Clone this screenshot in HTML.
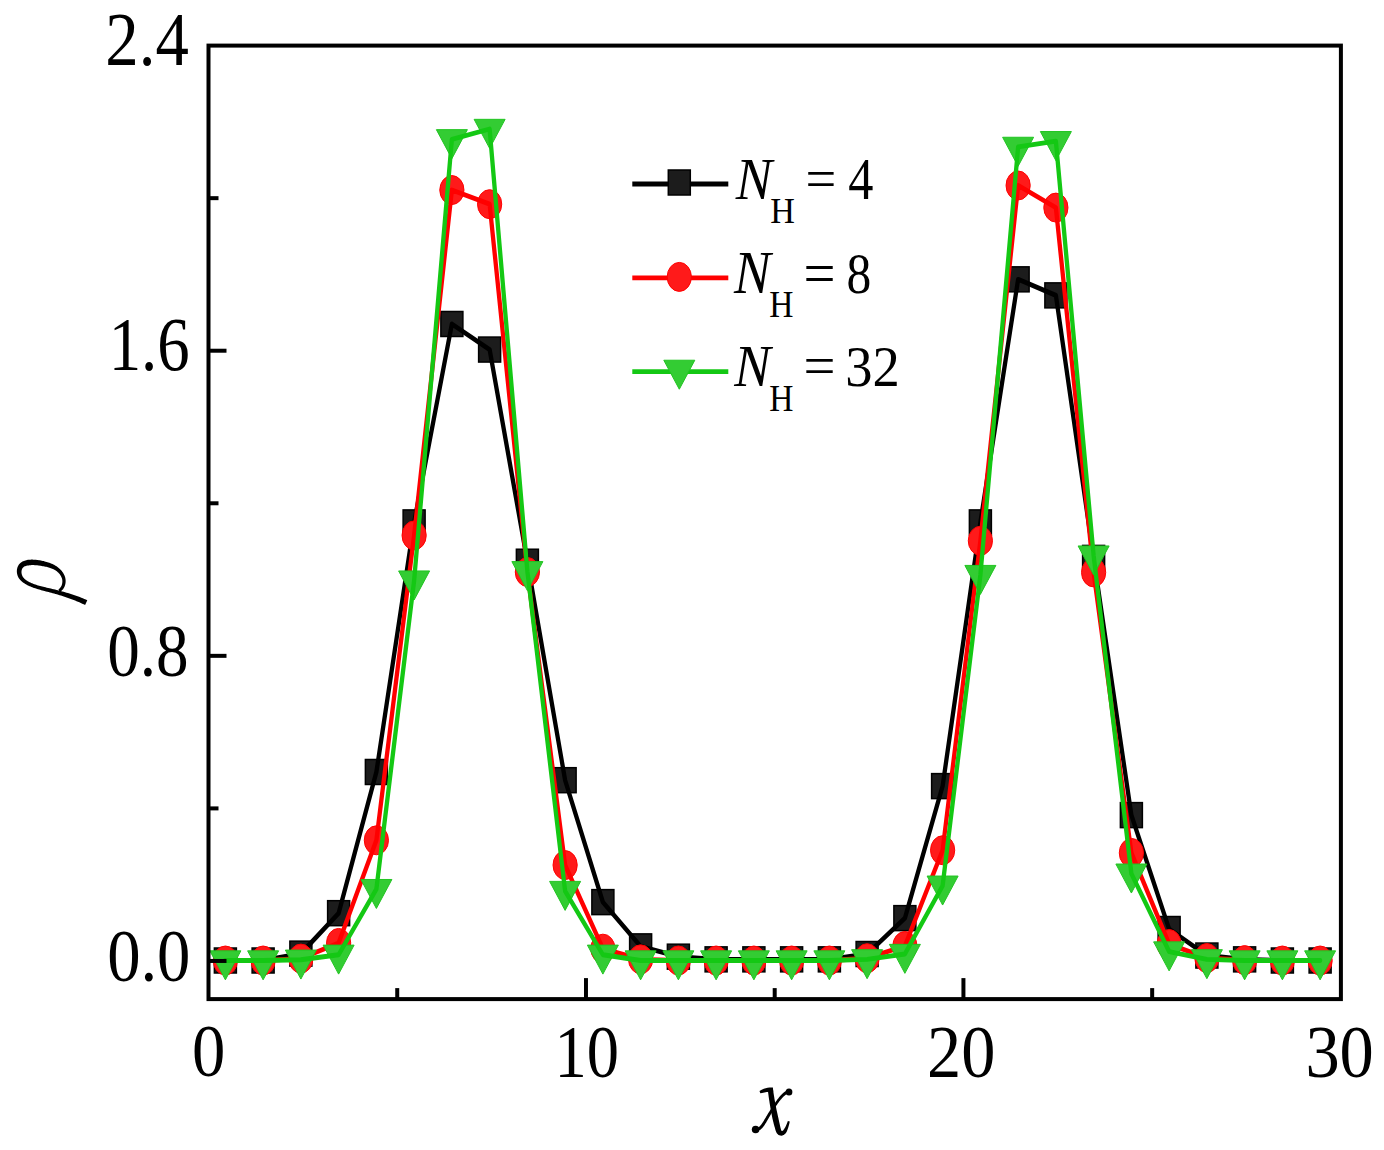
<!DOCTYPE html>
<html><head><meta charset="utf-8"><style>
html,body{margin:0;padding:0;background:#fff;width:1384px;height:1150px;overflow:hidden}
svg{display:block}
.f{font-family:"Liberation Serif",serif;font-size:100px;fill:#000}
</style></head><body>
<svg width="1384" height="1150" viewBox="0 0 1384 1150">
<rect width="1384" height="1150" fill="#fff"/>
<g>
<rect x="214.38" y="948.00" width="22.0" height="25.0" fill="#1c1c1c" stroke="#000" stroke-width="1.5"/><rect x="252.12" y="948.00" width="22.0" height="25.0" fill="#1c1c1c" stroke="#000" stroke-width="1.5"/><rect x="289.88" y="941.13" width="22.0" height="25.0" fill="#1c1c1c" stroke="#000" stroke-width="1.5"/><rect x="327.62" y="900.68" width="22.0" height="25.0" fill="#1c1c1c" stroke="#000" stroke-width="1.5"/><rect x="365.38" y="759.49" width="22.0" height="25.0" fill="#1c1c1c" stroke="#000" stroke-width="1.5"/><rect x="403.12" y="509.92" width="22.0" height="25.0" fill="#1c1c1c" stroke="#000" stroke-width="1.5"/><rect x="440.88" y="311.49" width="22.0" height="25.0" fill="#1c1c1c" stroke="#000" stroke-width="1.5"/><rect x="478.62" y="337.06" width="22.0" height="25.0" fill="#1c1c1c" stroke="#000" stroke-width="1.5"/><rect x="516.38" y="549.23" width="22.0" height="25.0" fill="#1c1c1c" stroke="#000" stroke-width="1.5"/><rect x="554.12" y="767.69" width="22.0" height="25.0" fill="#1c1c1c" stroke="#000" stroke-width="1.5"/><rect x="591.88" y="889.62" width="22.0" height="25.0" fill="#1c1c1c" stroke="#000" stroke-width="1.5"/><rect x="629.62" y="933.88" width="22.0" height="25.0" fill="#1c1c1c" stroke="#000" stroke-width="1.5"/><rect x="667.38" y="944.18" width="22.0" height="25.0" fill="#1c1c1c" stroke="#000" stroke-width="1.5"/><rect x="705.12" y="946.86" width="22.0" height="25.0" fill="#1c1c1c" stroke="#000" stroke-width="1.5"/><rect x="742.88" y="946.86" width="22.0" height="25.0" fill="#1c1c1c" stroke="#000" stroke-width="1.5"/><rect x="780.62" y="946.86" width="22.0" height="25.0" fill="#1c1c1c" stroke="#000" stroke-width="1.5"/><rect x="818.38" y="946.86" width="22.0" height="25.0" fill="#1c1c1c" stroke="#000" stroke-width="1.5"/><rect x="856.12" y="941.51" width="22.0" height="25.0" fill="#1c1c1c" stroke="#000" stroke-width="1.5"/><rect x="893.88" y="905.64" width="22.0" height="25.0" fill="#1c1c1c" stroke="#000" stroke-width="1.5"/><rect x="931.62" y="773.61" width="22.0" height="25.0" fill="#1c1c1c" stroke="#000" stroke-width="1.5"/><rect x="969.38" y="509.92" width="22.0" height="25.0" fill="#1c1c1c" stroke="#000" stroke-width="1.5"/><rect x="1007.12" y="266.84" width="22.0" height="25.0" fill="#1c1c1c" stroke="#000" stroke-width="1.5"/><rect x="1044.88" y="282.87" width="22.0" height="25.0" fill="#1c1c1c" stroke="#000" stroke-width="1.5"/><rect x="1082.62" y="545.41" width="22.0" height="25.0" fill="#1c1c1c" stroke="#000" stroke-width="1.5"/><rect x="1120.38" y="802.61" width="22.0" height="25.0" fill="#1c1c1c" stroke="#000" stroke-width="1.5"/><rect x="1158.12" y="916.52" width="22.0" height="25.0" fill="#1c1c1c" stroke="#000" stroke-width="1.5"/><rect x="1195.88" y="943.04" width="22.0" height="25.0" fill="#1c1c1c" stroke="#000" stroke-width="1.5"/><rect x="1233.62" y="946.86" width="22.0" height="25.0" fill="#1c1c1c" stroke="#000" stroke-width="1.5"/><rect x="1271.38" y="948.00" width="22.0" height="25.0" fill="#1c1c1c" stroke="#000" stroke-width="1.5"/><rect x="1309.12" y="948.00" width="22.0" height="25.0" fill="#1c1c1c" stroke="#000" stroke-width="1.5"/><g transform="scale(1,1.13)"><polyline points="225.38,850.00 263.12,850.00 300.88,843.92 338.62,808.13 376.38,683.18 414.12,462.32 451.88,286.72 489.62,309.34 527.38,497.10 565.12,690.44 602.88,798.33 640.62,837.51 678.38,846.62 716.12,848.99 753.88,848.99 791.62,848.99 829.38,848.99 867.12,844.26 904.88,812.52 942.62,695.67 980.38,462.32 1018.12,247.21 1055.88,261.39 1093.62,493.73 1131.38,721.34 1169.12,822.14 1206.88,845.61 1244.62,848.99 1282.38,850.00 1320.12,850.00" fill="none" stroke="#000" stroke-width="4.3" stroke-linejoin="round" stroke-linecap="round"/></g><ellipse cx="225.38" cy="960.50" rx="12.1" ry="14.5" fill="#ff1a1a" stroke="#f00" stroke-width="1"/><ellipse cx="263.12" cy="960.50" rx="12.1" ry="14.5" fill="#ff1a1a" stroke="#f00" stroke-width="1"/><ellipse cx="300.88" cy="958.59" rx="12.1" ry="14.5" fill="#ff1a1a" stroke="#f00" stroke-width="1"/><ellipse cx="338.62" cy="942.95" rx="12.1" ry="14.5" fill="#ff1a1a" stroke="#f00" stroke-width="1"/><ellipse cx="376.38" cy="840.30" rx="12.1" ry="14.5" fill="#ff1a1a" stroke="#f00" stroke-width="1"/><ellipse cx="414.12" cy="535.40" rx="12.1" ry="14.5" fill="#ff1a1a" stroke="#f00" stroke-width="1"/><ellipse cx="451.88" cy="190.05" rx="12.1" ry="14.5" fill="#ff1a1a" stroke="#f00" stroke-width="1"/><ellipse cx="489.62" cy="204.17" rx="12.1" ry="14.5" fill="#ff1a1a" stroke="#f00" stroke-width="1"/><ellipse cx="527.38" cy="572.03" rx="12.1" ry="14.5" fill="#ff1a1a" stroke="#f00" stroke-width="1"/><ellipse cx="565.12" cy="865.10" rx="12.1" ry="14.5" fill="#ff1a1a" stroke="#f00" stroke-width="1"/><ellipse cx="602.88" cy="948.67" rx="12.1" ry="14.5" fill="#ff1a1a" stroke="#f00" stroke-width="1"/><ellipse cx="640.62" cy="959.36" rx="12.1" ry="14.5" fill="#ff1a1a" stroke="#f00" stroke-width="1"/><ellipse cx="678.38" cy="960.50" rx="12.1" ry="14.5" fill="#ff1a1a" stroke="#f00" stroke-width="1"/><ellipse cx="716.12" cy="960.50" rx="12.1" ry="14.5" fill="#ff1a1a" stroke="#f00" stroke-width="1"/><ellipse cx="753.88" cy="960.50" rx="12.1" ry="14.5" fill="#ff1a1a" stroke="#f00" stroke-width="1"/><ellipse cx="791.62" cy="960.50" rx="12.1" ry="14.5" fill="#ff1a1a" stroke="#f00" stroke-width="1"/><ellipse cx="829.38" cy="960.50" rx="12.1" ry="14.5" fill="#ff1a1a" stroke="#f00" stroke-width="1"/><ellipse cx="867.12" cy="958.21" rx="12.1" ry="14.5" fill="#ff1a1a" stroke="#f00" stroke-width="1"/><ellipse cx="904.88" cy="946.00" rx="12.1" ry="14.5" fill="#ff1a1a" stroke="#f00" stroke-width="1"/><ellipse cx="942.62" cy="850.22" rx="12.1" ry="14.5" fill="#ff1a1a" stroke="#f00" stroke-width="1"/><ellipse cx="980.38" cy="540.74" rx="12.1" ry="14.5" fill="#ff1a1a" stroke="#f00" stroke-width="1"/><ellipse cx="1018.12" cy="185.47" rx="12.1" ry="14.5" fill="#ff1a1a" stroke="#f00" stroke-width="1"/><ellipse cx="1055.88" cy="207.60" rx="12.1" ry="14.5" fill="#ff1a1a" stroke="#f00" stroke-width="1"/><ellipse cx="1093.62" cy="572.41" rx="12.1" ry="14.5" fill="#ff1a1a" stroke="#f00" stroke-width="1"/><ellipse cx="1131.38" cy="852.89" rx="12.1" ry="14.5" fill="#ff1a1a" stroke="#f00" stroke-width="1"/><ellipse cx="1169.12" cy="944.09" rx="12.1" ry="14.5" fill="#ff1a1a" stroke="#f00" stroke-width="1"/><ellipse cx="1206.88" cy="958.02" rx="12.1" ry="14.5" fill="#ff1a1a" stroke="#f00" stroke-width="1"/><ellipse cx="1244.62" cy="960.12" rx="12.1" ry="14.5" fill="#ff1a1a" stroke="#f00" stroke-width="1"/><ellipse cx="1282.38" cy="960.50" rx="12.1" ry="14.5" fill="#ff1a1a" stroke="#f00" stroke-width="1"/><ellipse cx="1320.12" cy="960.50" rx="12.1" ry="14.5" fill="#ff1a1a" stroke="#f00" stroke-width="1"/><g transform="scale(1,1.13)"><polyline points="225.38,850.00 263.12,850.00 300.88,848.31 338.62,834.47 376.38,743.62 414.12,473.80 451.88,168.19 489.62,180.68 527.38,506.22 565.12,765.58 602.88,839.53 640.62,848.99 678.38,850.00 716.12,850.00 753.88,850.00 791.62,850.00 829.38,850.00 867.12,847.97 904.88,837.17 942.62,752.40 980.38,478.53 1018.12,164.13 1055.88,183.72 1093.62,506.56 1131.38,754.77 1169.12,835.48 1206.88,847.80 1244.62,849.66 1282.38,850.00 1320.12,850.00" fill="none" stroke="#ff0000" stroke-width="4.3" stroke-linejoin="round" stroke-linecap="round"/></g><polygon points="209.88,950.83 240.88,950.83 225.38,979.83" fill="#33cc33" stroke="#22c422" stroke-width="1" stroke-linejoin="miter"/><polygon points="247.62,950.83 278.62,950.83 263.12,979.83" fill="#33cc33" stroke="#22c422" stroke-width="1" stroke-linejoin="miter"/><polygon points="285.38,950.07 316.38,950.07 300.88,979.07" fill="#33cc33" stroke="#22c422" stroke-width="1" stroke-linejoin="miter"/><polygon points="323.12,945.11 354.12,945.11 338.62,974.11" fill="#33cc33" stroke="#22c422" stroke-width="1" stroke-linejoin="miter"/><polygon points="360.88,879.47 391.88,879.47 376.38,908.47" fill="#33cc33" stroke="#22c422" stroke-width="1" stroke-linejoin="miter"/><polygon points="398.62,570.95 429.62,570.95 414.12,599.95" fill="#33cc33" stroke="#22c422" stroke-width="1" stroke-linejoin="miter"/><polygon points="436.38,129.63 467.38,129.63 451.88,158.63" fill="#33cc33" stroke="#22c422" stroke-width="1" stroke-linejoin="miter"/><polygon points="474.12,119.33 505.12,119.33 489.62,148.33" fill="#33cc33" stroke="#22c422" stroke-width="1" stroke-linejoin="miter"/><polygon points="511.88,561.60 542.88,561.60 527.38,590.60" fill="#33cc33" stroke="#22c422" stroke-width="1" stroke-linejoin="miter"/><polygon points="549.62,881.38 580.62,881.38 565.12,910.38" fill="#33cc33" stroke="#22c422" stroke-width="1" stroke-linejoin="miter"/><polygon points="587.38,945.11 618.38,945.11 602.88,974.11" fill="#33cc33" stroke="#22c422" stroke-width="1" stroke-linejoin="miter"/><polygon points="625.12,950.83 656.12,950.83 640.62,979.83" fill="#33cc33" stroke="#22c422" stroke-width="1" stroke-linejoin="miter"/><polygon points="662.88,950.83 693.88,950.83 678.38,979.83" fill="#33cc33" stroke="#22c422" stroke-width="1" stroke-linejoin="miter"/><polygon points="700.62,950.83 731.62,950.83 716.12,979.83" fill="#33cc33" stroke="#22c422" stroke-width="1" stroke-linejoin="miter"/><polygon points="738.38,950.83 769.38,950.83 753.88,979.83" fill="#33cc33" stroke="#22c422" stroke-width="1" stroke-linejoin="miter"/><polygon points="776.12,950.83 807.12,950.83 791.62,979.83" fill="#33cc33" stroke="#22c422" stroke-width="1" stroke-linejoin="miter"/><polygon points="813.88,950.83 844.88,950.83 829.38,979.83" fill="#33cc33" stroke="#22c422" stroke-width="1" stroke-linejoin="miter"/><polygon points="851.62,949.69 882.62,949.69 867.12,978.69" fill="#33cc33" stroke="#22c422" stroke-width="1" stroke-linejoin="miter"/><polygon points="889.38,944.35 920.38,944.35 904.88,973.35" fill="#33cc33" stroke="#22c422" stroke-width="1" stroke-linejoin="miter"/><polygon points="927.12,876.04 958.12,876.04 942.62,905.04" fill="#33cc33" stroke="#22c422" stroke-width="1" stroke-linejoin="miter"/><polygon points="964.88,565.42 995.88,565.42 980.38,594.42" fill="#33cc33" stroke="#22c422" stroke-width="1" stroke-linejoin="miter"/><polygon points="1002.62,137.26 1033.62,137.26 1018.12,166.26" fill="#33cc33" stroke="#22c422" stroke-width="1" stroke-linejoin="miter"/><polygon points="1040.38,131.54 1071.38,131.54 1055.88,160.54" fill="#33cc33" stroke="#22c422" stroke-width="1" stroke-linejoin="miter"/><polygon points="1078.12,545.96 1109.12,545.96 1093.62,574.96" fill="#33cc33" stroke="#22c422" stroke-width="1" stroke-linejoin="miter"/><polygon points="1115.88,864.02 1146.88,864.02 1131.38,893.02" fill="#33cc33" stroke="#22c422" stroke-width="1" stroke-linejoin="miter"/><polygon points="1153.62,941.87 1184.62,941.87 1169.12,970.87" fill="#33cc33" stroke="#22c422" stroke-width="1" stroke-linejoin="miter"/><polygon points="1191.38,949.69 1222.38,949.69 1206.88,978.69" fill="#33cc33" stroke="#22c422" stroke-width="1" stroke-linejoin="miter"/><polygon points="1229.12,950.83 1260.12,950.83 1244.62,979.83" fill="#33cc33" stroke="#22c422" stroke-width="1" stroke-linejoin="miter"/><polygon points="1266.88,950.83 1297.88,950.83 1282.38,979.83" fill="#33cc33" stroke="#22c422" stroke-width="1" stroke-linejoin="miter"/><polygon points="1304.62,950.83 1335.62,950.83 1320.12,979.83" fill="#33cc33" stroke="#22c422" stroke-width="1" stroke-linejoin="miter"/><g transform="scale(1,1.13)"><polyline points="225.38,850.00 263.12,850.00 300.88,849.32 338.62,844.93 376.38,786.85 414.12,513.82 451.88,123.27 489.62,114.15 527.38,505.55 565.12,788.54 602.88,844.93 640.62,850.00 678.38,850.00 716.12,850.00 753.88,850.00 791.62,850.00 829.38,850.00 867.12,848.99 904.88,844.26 942.62,783.81 980.38,508.92 1018.12,130.03 1055.88,124.96 1093.62,491.70 1131.38,773.17 1169.12,842.06 1206.88,848.99 1244.62,850.00 1282.38,850.00 1320.12,850.00" fill="none" stroke="#14c814" stroke-width="4.3" stroke-linejoin="round" stroke-linecap="round"/></g>
<rect x="208.50" y="45.60" width="1132.40" height="953.50" fill="none" stroke="#000" stroke-width="4.0"/><line x1="585.97" y1="999.10" x2="585.97" y2="978.10" stroke="#000" stroke-width="4.0"/><line x1="963.43" y1="999.10" x2="963.43" y2="978.10" stroke="#000" stroke-width="4.0"/><line x1="397.23" y1="999.10" x2="397.23" y2="988.10" stroke="#000" stroke-width="4.0"/><line x1="774.70" y1="999.10" x2="774.70" y2="988.10" stroke="#000" stroke-width="4.0"/><line x1="1152.17" y1="999.10" x2="1152.17" y2="988.10" stroke="#000" stroke-width="4.0"/><line x1="208.50" y1="960.96" x2="226.50" y2="960.96" stroke="#000" stroke-width="4.0"/><line x1="208.50" y1="655.84" x2="226.50" y2="655.84" stroke="#000" stroke-width="4.0"/><line x1="208.50" y1="350.72" x2="226.50" y2="350.72" stroke="#000" stroke-width="4.0"/><line x1="208.50" y1="808.40" x2="218.50" y2="808.40" stroke="#000" stroke-width="4.0"/><line x1="208.50" y1="503.28" x2="218.50" y2="503.28" stroke="#000" stroke-width="4.0"/><line x1="208.50" y1="198.16" x2="218.50" y2="198.16" stroke="#000" stroke-width="4.0"/>
<g transform="scale(1,1.13)"><line x1="632.3" y1="162.83" x2="728.3" y2="162.83" stroke="#000" stroke-width="4.3" stroke-linecap="butt"/></g><rect x="668.30" y="170.00" width="22.0" height="25.0" fill="#1c1c1c" stroke="#000" stroke-width="1.5"/><text transform="matrix(0.54545,0,0,0.60000,735.67,199.40)" class="f" font-style="italic">N</text><text transform="matrix(0.34135,0,0,0.35725,770.18,222.60)" class="f">H</text><text transform="matrix(0.54624,0,0,0.57200,805.47,198.13)" class="f">=</text><text transform="matrix(0.50323,0,0,0.58615,848.19,199.49)" class="f">4</text><g transform="scale(1,1.13)"><line x1="632.3" y1="245.93" x2="728.3" y2="245.93" stroke="#ff0000" stroke-width="4.3" stroke-linecap="butt"/></g><ellipse cx="679.30" cy="276.90" rx="12.1" ry="14.5" fill="#ff1a1a" stroke="#f00" stroke-width="1"/><text transform="matrix(0.54965,0,0,0.61077,734.07,293.10)" class="f" font-style="italic">N</text><text transform="matrix(0.33534,0,0,0.38015,769.29,317.10)" class="f">H</text><text transform="matrix(0.56774,0,0,0.59600,803.46,292.92)" class="f">=</text><text transform="matrix(0.49524,0,0,0.57778,846.62,292.52)" class="f">8</text><g transform="scale(1,1.13)"><line x1="632.3" y1="328.85" x2="728.3" y2="328.85" stroke="#14c814" stroke-width="4.3" stroke-linecap="butt"/></g><polygon points="663.80,360.23 694.80,360.23 679.30,389.23" fill="#33cc33" stroke="#22c422" stroke-width="1" stroke-linejoin="miter"/><text transform="matrix(0.54545,0,0,0.60000,734.37,386.10)" class="f" font-style="italic">N</text><text transform="matrix(0.33534,0,0,0.38779,769.29,410.80)" class="f">H</text><text transform="matrix(0.56774,0,0,0.57200,803.46,385.43)" class="f">=</text><text transform="matrix(0.54525,0,0,0.57164,845.17,386.13)" class="f">32</text>
<text transform="matrix(0.66807,0,0,0.76000,105.29,65.36)" class="f">2.4</text><text transform="matrix(0.64867,0,0,0.76000,108.66,369.56)" class="f">1.6</text><text transform="matrix(0.65128,0,0,0.73824,107.19,675.99)" class="f">0.8</text><text transform="matrix(0.66667,0,0,0.73824,107.13,980.69)" class="f">0.0</text><text transform="matrix(0.66667,0,0,0.73630,192.03,1076.06)" class="f">0</text><text transform="matrix(0.64483,0,0,0.74370,554.60,1076.56)" class="f">10</text><text transform="matrix(0.68415,0,0,0.74370,927.02,1076.56)" class="f">20</text><text transform="matrix(0.68462,0,0,0.74370,1305.38,1076.56)" class="f">30</text><path d="M 767.72,1088.91 L 767.89,1090.42 L 768.06,1091.96 L 768.26,1093.50 L 768.46,1095.06 L 768.67,1096.63 L 768.89,1098.20 L 769.12,1099.78 L 769.36,1101.36 L 769.61,1102.94 L 769.86,1104.51 L 770.13,1106.08 L 770.39,1107.64 L 770.67,1109.20 L 770.94,1110.74 L 771.23,1112.26 L 771.51,1113.77 L 771.80,1115.26 L 772.10,1116.73 L 772.39,1118.18 L 772.69,1119.60 L 773.03,1120.98 L 773.37,1122.33 L 773.71,1123.64 L 774.05,1124.93 L 774.39,1126.17 L 774.72,1127.37 L 775.05,1128.54 L 775.38,1129.66 L 775.70,1130.75 L 775.89,1131.29 L 776.09,1131.79 L 776.31,1132.27 L 776.55,1132.73 L 776.82,1133.17 L 777.11,1133.59 L 777.45,1133.98 L 777.82,1134.33 L 778.22,1134.64 L 778.64,1134.93 L 779.09,1135.17 L 779.56,1135.37 L 780.05,1135.52 L 780.55,1135.62 L 781.05,1135.66 L 781.56,1135.65 L 782.05,1135.59 L 782.53,1135.48 L 782.99,1135.32 L 783.42,1135.12 L 783.84,1134.89 L 784.23,1134.62 L 784.60,1134.33 L 784.95,1134.01 L 785.28,1133.66 L 785.60,1133.30 L 785.91,1132.91 L 786.20,1132.49 L 786.50,1132.02 L 786.70,1131.63 L 786.84,1131.32 L 786.97,1131.01 L 787.11,1130.69 L 787.24,1130.37 L 787.37,1130.04 L 787.49,1129.71 L 787.61,1129.37 L 787.73,1129.03 L 787.85,1128.69 L 787.96,1128.34 L 788.07,1127.98 L 788.18,1127.63 L 788.30,1127.27 L 788.41,1126.91 L 788.52,1126.54 L 788.63,1126.18 L 788.74,1125.81 L 788.85,1125.43 L 788.95,1125.05 L 789.05,1124.67 L 789.15,1124.29 L 789.24,1123.91 L 789.33,1123.52 L 789.43,1123.13 L 789.51,1122.74 L 789.60,1122.35 L 789.68,1121.96 L 789.76,1121.56 L 787.84,1121.04 L 787.71,1121.41 L 787.58,1121.78 L 787.45,1122.14 L 787.31,1122.50 L 787.18,1122.86 L 787.04,1123.22 L 786.90,1123.57 L 786.76,1123.92 L 786.62,1124.27 L 786.48,1124.62 L 786.34,1124.96 L 786.19,1125.29 L 786.04,1125.62 L 785.89,1125.95 L 785.74,1126.27 L 785.59,1126.59 L 785.43,1126.89 L 785.27,1127.20 L 785.11,1127.49 L 784.94,1127.78 L 784.78,1128.06 L 784.61,1128.34 L 784.44,1128.61 L 784.28,1128.87 L 784.11,1129.13 L 783.94,1129.37 L 783.78,1129.61 L 783.61,1129.85 L 783.50,1129.98 L 783.28,1130.20 L 783.05,1130.43 L 782.82,1130.62 L 782.60,1130.78 L 782.40,1130.91 L 782.21,1131.00 L 782.04,1131.06 L 781.89,1131.10 L 781.77,1131.11 L 781.67,1131.11 L 781.60,1131.09 L 781.56,1131.06 L 781.53,1131.03 L 781.52,1130.99 L 781.53,1130.96 L 781.54,1130.93 L 781.54,1130.90 L 781.54,1130.86 L 781.54,1130.81 L 781.52,1130.75 L 781.49,1130.68 L 781.46,1130.58 L 781.40,1130.47 L 781.32,1130.34 L 781.24,1130.18 L 781.15,1129.98 L 781.06,1129.76 L 780.97,1129.51 L 780.90,1129.25 L 780.64,1128.23 L 780.37,1127.13 L 780.10,1125.99 L 779.83,1124.81 L 779.55,1123.58 L 779.28,1122.31 L 779.00,1121.01 L 778.72,1119.68 L 778.44,1118.31 L 778.12,1116.93 L 777.80,1115.52 L 777.48,1114.08 L 777.16,1112.62 L 776.85,1111.14 L 776.53,1109.65 L 776.23,1108.14 L 775.92,1106.62 L 775.62,1105.09 L 775.33,1103.55 L 775.05,1102.01 L 774.77,1100.46 L 774.50,1098.92 L 774.24,1097.37 L 773.98,1095.83 L 773.74,1094.30 L 773.51,1092.78 L 773.29,1091.27 L 773.08,1089.77 L 772.88,1088.29 Z" fill="#000"/><path d="M 759.5,1090.9 C 762.5,1089.3 766,1087.9 769.5,1087.6 L 772.9,1087.6 L 773.2,1091.8 C 769,1091.6 764.5,1092.2 760.3,1093.3 Z" fill="#000"/><path d="M 755.25,1130.98 L 755.79,1131.07 L 756.41,1131.10 L 757.02,1131.07 L 757.62,1130.97 L 758.19,1130.82 L 758.74,1130.61 L 759.28,1130.36 L 759.79,1130.07 L 760.28,1129.75 L 760.75,1129.39 L 761.20,1129.00 L 761.64,1128.59 L 762.07,1128.15 L 762.48,1127.69 L 762.89,1127.22 L 763.28,1126.73 L 763.66,1126.22 L 764.04,1125.70 L 764.41,1125.17 L 764.77,1124.63 L 765.12,1124.09 L 765.47,1123.54 L 765.81,1122.98 L 766.15,1122.43 L 766.48,1121.88 L 766.80,1121.34 L 767.12,1120.80 L 767.43,1120.27 L 767.75,1119.74 L 768.11,1119.10 L 768.49,1118.45 L 768.87,1117.79 L 769.26,1117.12 L 769.66,1116.43 L 770.07,1115.73 L 770.49,1115.02 L 770.91,1114.31 L 771.34,1113.59 L 771.78,1112.86 L 772.22,1112.13 L 772.67,1111.39 L 773.12,1110.66 L 773.57,1109.92 L 774.03,1109.19 L 774.49,1108.46 L 774.96,1107.73 L 775.42,1107.01 L 775.89,1106.30 L 776.36,1105.59 L 776.83,1104.89 L 777.30,1104.21 L 777.77,1103.54 L 778.23,1102.88 L 778.70,1102.24 L 779.17,1101.62 L 779.64,1101.02 L 780.11,1100.44 L 780.57,1099.87 L 780.88,1099.50 L 781.19,1099.14 L 781.50,1098.78 L 781.80,1098.43 L 782.11,1098.09 L 782.41,1097.75 L 782.72,1097.42 L 783.02,1097.11 L 783.33,1096.80 L 783.63,1096.50 L 783.93,1096.21 L 784.24,1095.93 L 784.54,1095.65 L 784.84,1095.40 L 785.14,1095.15 L 785.45,1094.91 L 785.75,1094.68 L 786.05,1094.47 L 786.35,1094.27 L 786.65,1094.08 L 786.95,1093.90 L 787.25,1093.74 L 787.54,1093.59 L 787.84,1093.45 L 788.14,1093.33 L 788.44,1093.22 L 788.74,1093.12 L 789.03,1093.03 L 789.37,1092.95 L 788.63,1090.05 L 788.24,1090.15 L 787.83,1090.27 L 787.42,1090.42 L 787.02,1090.58 L 786.62,1090.75 L 786.23,1090.94 L 785.85,1091.14 L 785.47,1091.36 L 785.09,1091.59 L 784.73,1091.83 L 784.36,1092.09 L 784.01,1092.35 L 783.65,1092.62 L 783.31,1092.91 L 782.96,1093.20 L 782.62,1093.51 L 782.28,1093.82 L 781.95,1094.14 L 781.62,1094.47 L 781.29,1094.81 L 780.96,1095.15 L 780.64,1095.50 L 780.32,1095.86 L 780.00,1096.23 L 779.68,1096.60 L 779.37,1096.97 L 779.05,1097.35 L 778.74,1097.74 L 778.43,1098.13 L 777.96,1098.72 L 777.48,1099.34 L 777.00,1099.98 L 776.53,1100.63 L 776.04,1101.29 L 775.55,1101.96 L 775.07,1102.65 L 774.58,1103.35 L 774.09,1104.06 L 773.61,1104.77 L 773.12,1105.50 L 772.64,1106.23 L 772.16,1106.96 L 771.69,1107.70 L 771.21,1108.44 L 770.74,1109.18 L 770.28,1109.92 L 769.82,1110.66 L 769.37,1111.39 L 768.92,1112.13 L 768.48,1112.85 L 768.05,1113.57 L 767.62,1114.28 L 767.20,1114.97 L 766.79,1115.66 L 766.39,1116.34 L 766.00,1117.00 L 765.62,1117.64 L 765.25,1118.26 L 764.94,1118.78 L 764.62,1119.31 L 764.30,1119.84 L 763.98,1120.38 L 763.65,1120.92 L 763.33,1121.45 L 763.00,1121.98 L 762.66,1122.50 L 762.33,1123.01 L 761.99,1123.51 L 761.65,1123.99 L 761.30,1124.46 L 760.96,1124.91 L 760.61,1125.34 L 760.27,1125.74 L 759.92,1126.12 L 759.57,1126.47 L 759.23,1126.78 L 758.89,1127.07 L 758.56,1127.32 L 758.23,1127.54 L 757.91,1127.72 L 757.59,1127.86 L 757.29,1127.97 L 757.00,1128.05 L 756.71,1128.09 L 756.42,1128.11 L 756.13,1128.09 L 755.75,1128.02 Z" fill="#000"/><ellipse cx="789.0" cy="1091.9" rx="3.4" ry="3.5" fill="#000"/><ellipse cx="755.6" cy="1129.5" rx="3.8" ry="3.8" fill="#000"/><path d="M 59.96,591.79 L 60.48,591.50 L 61.01,591.14 L 61.51,590.75 L 61.99,590.32 L 62.43,589.87 L 62.85,589.39 L 63.24,588.89 L 63.60,588.37 L 63.93,587.82 L 64.23,587.26 L 64.50,586.69 L 64.74,586.09 L 64.95,585.49 L 65.14,584.87 L 65.30,584.24 L 65.42,583.61 L 65.52,582.96 L 65.59,582.32 L 65.63,581.66 L 65.64,581.01 L 65.62,580.35 L 65.57,579.70 L 65.50,579.04 L 65.39,578.39 L 65.25,577.74 L 65.07,577.10 L 64.87,576.46 L 64.63,575.84 L 64.37,575.26 L 64.09,574.65 L 63.78,574.03 L 63.43,573.41 L 63.07,572.81 L 62.67,572.23 L 62.26,571.65 L 61.81,571.08 L 61.35,570.53 L 60.86,569.99 L 60.35,569.47 L 59.81,568.95 L 59.25,568.46 L 58.67,567.97 L 58.07,567.49 L 57.46,567.01 L 56.82,566.56 L 56.16,566.11 L 55.47,565.68 L 54.77,565.26 L 54.04,564.86 L 53.29,564.48 L 52.52,564.10 L 51.73,563.74 L 50.92,563.40 L 50.09,563.07 L 49.24,562.76 L 48.37,562.46 L 47.47,562.18 L 46.59,561.92 L 45.65,561.65 L 44.70,561.38 L 43.74,561.12 L 42.77,560.89 L 41.80,560.69 L 40.84,560.51 L 39.87,560.34 L 38.91,560.18 L 37.95,560.04 L 36.99,559.92 L 36.05,559.82 L 35.10,559.74 L 34.17,559.67 L 33.24,559.63 L 32.33,559.61 L 31.42,559.61 L 30.52,559.63 L 29.64,559.67 L 28.77,559.75 L 27.91,559.84 L 27.07,559.99 L 26.25,560.18 L 25.44,560.40 L 24.66,560.65 L 23.89,560.93 L 23.15,561.25 L 22.43,561.60 L 21.73,562.00 L 21.03,562.46 L 20.40,562.96 L 19.86,563.47 L 19.36,564.02 L 18.91,564.59 L 18.50,565.19 L 18.15,565.81 L 17.84,566.45 L 17.57,567.09 L 17.35,567.75 L 17.17,568.42 L 17.03,569.10 L 16.93,569.77 L 16.87,570.46 L 16.85,571.14 L 16.86,571.82 L 16.91,572.50 L 16.99,573.17 L 17.11,573.84 L 17.27,574.50 L 17.46,575.15 L 17.67,575.79 L 17.92,576.42 L 18.21,577.04 L 18.52,577.64 L 18.86,578.22 L 19.24,578.79 L 19.64,579.33 L 20.08,579.85 L 20.53,580.33 L 21.02,580.83 L 21.56,581.31 L 22.12,581.78 L 22.70,582.24 L 23.31,582.68 L 23.95,583.10 L 24.60,583.52 L 25.26,583.94 L 25.95,584.35 L 26.66,584.75 L 27.40,585.14 L 28.16,585.52 L 28.95,585.89 L 29.76,586.25 L 30.59,586.61 L 31.44,586.95 L 32.32,587.29 L 33.22,587.63 L 34.14,587.95 L 35.09,588.27 L 36.06,588.59 L 37.04,588.90 L 38.06,589.20 L 39.08,589.51 L 40.13,589.83 L 41.21,590.13 L 42.30,590.44 L 43.41,590.74 L 44.55,591.04 L 45.90,591.39 L 47.25,591.74 L 48.60,592.09 L 49.95,592.45 L 51.32,592.81 L 52.68,593.18 L 54.06,593.56 L 55.43,593.95 L 56.82,594.35 L 58.20,594.76 L 59.59,595.17 L 60.99,595.60 L 62.39,596.03 L 63.79,596.48 L 65.20,596.94 L 66.60,597.41 L 68.02,597.90 L 69.43,598.40 L 70.84,598.92 L 72.26,599.45 L 73.68,600.00 L 75.10,600.57 L 76.52,601.15 L 77.95,601.74 L 79.37,602.36 L 80.80,602.99 L 82.23,603.64 L 83.65,604.31 L 85.10,605.01 L 87.30,600.19 L 85.81,599.54 L 84.30,598.91 L 82.80,598.29 L 81.30,597.70 L 79.81,597.12 L 78.31,596.56 L 76.83,596.02 L 75.34,595.50 L 73.86,595.00 L 72.38,594.51 L 70.91,594.03 L 69.45,593.57 L 67.99,593.12 L 66.53,592.68 L 65.08,592.25 L 63.64,591.84 L 62.20,591.44 L 60.77,591.05 L 59.34,590.68 L 57.92,590.31 L 56.51,589.95 L 55.10,589.60 L 53.70,589.26 L 52.30,588.93 L 50.91,588.60 L 49.53,588.28 L 48.16,587.97 L 46.80,587.66 L 45.45,587.36 L 44.33,587.10 L 43.24,586.83 L 42.16,586.57 L 41.11,586.30 L 40.08,586.03 L 39.08,585.75 L 38.10,585.45 L 37.15,585.16 L 36.22,584.86 L 35.32,584.55 L 34.44,584.24 L 33.59,583.93 L 32.77,583.61 L 31.97,583.28 L 31.20,582.95 L 30.45,582.62 L 29.74,582.28 L 29.05,581.94 L 28.38,581.59 L 27.75,581.23 L 27.14,580.87 L 26.57,580.51 L 26.03,580.12 L 25.53,579.72 L 25.06,579.32 L 24.62,578.92 L 24.21,578.51 L 23.83,578.10 L 23.47,577.67 L 23.18,577.30 L 22.92,576.93 L 22.69,576.54 L 22.47,576.14 L 22.27,575.73 L 22.10,575.30 L 21.94,574.87 L 21.81,574.43 L 21.70,573.98 L 21.62,573.53 L 21.55,573.08 L 21.51,572.63 L 21.49,572.18 L 21.49,571.74 L 21.52,571.30 L 21.56,570.88 L 21.63,570.46 L 21.72,570.05 L 21.83,569.66 L 21.96,569.29 L 22.11,568.93 L 22.29,568.59 L 22.47,568.26 L 22.68,567.96 L 22.91,567.67 L 23.15,567.41 L 23.42,567.16 L 23.70,566.93 L 23.97,566.74 L 24.33,566.55 L 24.77,566.34 L 25.23,566.15 L 25.73,565.98 L 26.27,565.83 L 26.83,565.69 L 27.43,565.57 L 28.05,565.47 L 28.70,565.38 L 29.38,565.28 L 30.08,565.21 L 30.81,565.15 L 31.55,565.11 L 32.32,565.09 L 33.11,565.09 L 33.92,565.10 L 34.75,565.14 L 35.59,565.19 L 36.44,565.26 L 37.30,565.34 L 38.18,565.44 L 39.06,565.56 L 39.95,565.69 L 40.85,565.84 L 41.75,566.00 L 42.66,566.16 L 43.57,566.32 L 44.48,566.49 L 45.41,566.68 L 46.27,566.85 L 47.07,567.03 L 47.86,567.22 L 48.63,567.43 L 49.38,567.65 L 50.12,567.89 L 50.83,568.14 L 51.52,568.40 L 52.19,568.68 L 52.84,568.97 L 53.48,569.27 L 54.09,569.59 L 54.68,569.91 L 55.25,570.25 L 55.81,570.60 L 56.34,570.97 L 56.84,571.35 L 57.32,571.75 L 57.78,572.16 L 58.21,572.57 L 58.63,573.00 L 59.03,573.43 L 59.40,573.87 L 59.76,574.33 L 60.09,574.79 L 60.40,575.26 L 60.70,575.74 L 60.97,576.22 L 61.23,576.74 L 61.46,577.21 L 61.65,577.66 L 61.82,578.12 L 61.97,578.59 L 62.09,579.08 L 62.20,579.57 L 62.27,580.06 L 62.33,580.56 L 62.36,581.07 L 62.36,581.58 L 62.34,582.08 L 62.30,582.58 L 62.24,583.08 L 62.16,583.57 L 62.05,584.06 L 61.92,584.53 L 61.77,585.00 L 61.60,585.45 L 61.41,585.89 L 61.19,586.31 L 60.96,586.71 L 60.71,587.10 L 60.45,587.46 L 60.16,587.81 L 59.86,588.13 L 59.54,588.43 L 59.21,588.70 L 58.85,588.96 L 58.44,589.21 Z" fill="#000"/>
</g>
</svg>
</body></html>
